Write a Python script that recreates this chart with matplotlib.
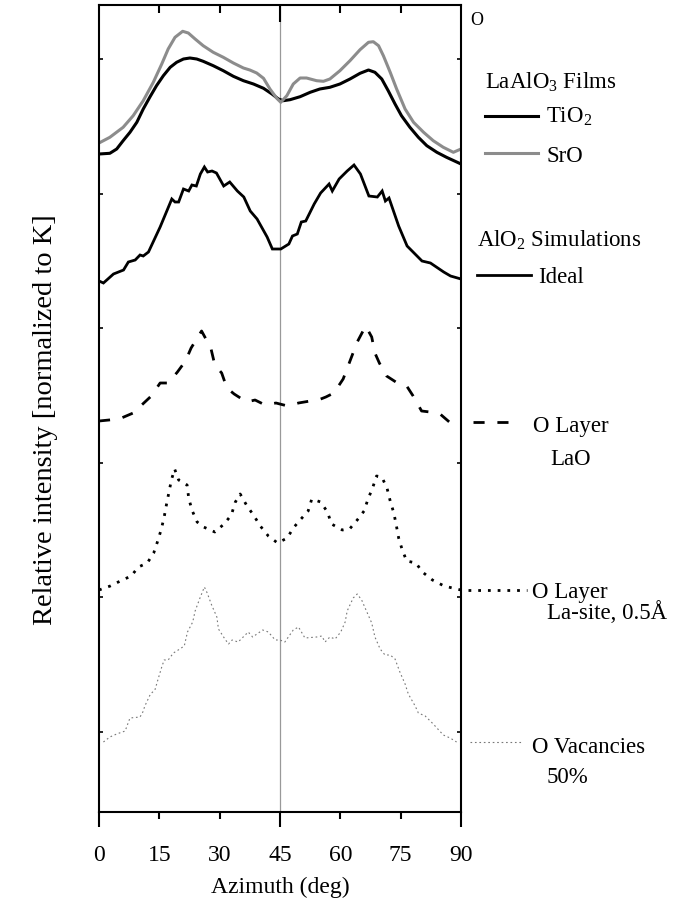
import numpy as np
import matplotlib
matplotlib.use("Agg")
import matplotlib.pyplot as plt
from matplotlib.lines import Line2D

plt.rcParams['font.family'] = ['Liberation Serif', 'DejaVu Serif']
plt.rcParams['mathtext.fontset'] = 'custom'
plt.rcParams['mathtext.rm'] = 'Liberation Serif'
plt.rcParams['mathtext.it'] = 'Liberation Serif:italic'

# Stacked azimuthal scans, intensities already offset for display
az_tio2 = [0, 2.7, 4.4, 6.0, 7.7, 9.4, 11.0, 12.7, 14.3, 16.0, 17.7, 19.3, 21.0, 22.6,
           24.3, 25.9, 28.4, 30.9, 33.4, 35.9, 38.4, 40.9, 43.0, 44.6, 45.8, 47.5, 50.0,
           52.5, 54.9, 57.4, 59.9, 62.4, 64.9, 67.0, 68.6, 70.3, 71.9, 73.6, 75.2, 77.3,
           79.4, 81.5, 84.0, 86.4, 90]
int_tio2 = [658, 658.7, 663, 671.3, 679.7, 689.7, 703, 715.3, 726.3, 736.3, 744.7, 749.7,
            753, 754, 753, 750.7, 746.3, 741.3, 735.7, 731.3, 728, 723.7, 718, 713, 711.3,
            712.3, 715.3, 719.7, 723, 724.7, 728, 733, 738.7, 742, 739.7, 733, 721.3, 708,
            696.3, 684.7, 674.7, 666.3, 659.7, 654.7, 648]

az_sro = [0, 2.7, 6.0, 8.5, 11.0, 13.5, 15.6, 17.2, 18.9, 20.8, 22.2, 23.9, 25.9, 28.4,
          30.9, 33.4, 35.9, 37.5, 39.2, 40.9, 42.5, 44.2, 45.2, 46.7, 48.3, 50.0, 51.6,
          54.1, 55.8, 57.4, 59.9, 62.4, 64.9, 67.0, 68.2, 69.5, 70.7, 72.4, 74.0, 76.1,
          78.2, 80.7, 83.1, 85.6, 88.1, 90]
int_sro = [669, 674.7, 684.7, 696.3, 711.3, 729.7, 748, 763, 774.7, 780.7, 779, 773,
           766.3, 759.7, 754.7, 749, 744, 742, 739, 733.7, 723, 713.7, 709.7, 716.3, 728,
           734, 734, 731.3, 730.7, 733, 741.3, 751.3, 762.3, 769.7, 770.3, 766.3, 756.3,
           739.7, 723, 703, 689.7, 679.7, 671.3, 664.7, 659.7, 663]

az_ideal = [0, 1.1, 3.6, 6.1, 7.3, 9, 10.2, 11, 12.3, 15.2, 18.1, 18.9, 19.8, 21, 22.3,
            23.1, 24.2, 25.2, 26.2, 27, 28.1, 29.2, 31, 32.5, 34.4, 36, 37.6, 39.3, 41.8,
            43.1, 45.2, 47.2, 48.1, 49.3, 50.3, 51.4, 53.5, 55.1, 57.2, 58, 59.7, 61.7,
            63.4, 65, 67.1, 69.2, 70.4, 71.2, 72.1, 74.5, 76.6, 80.3, 82.4, 85.7, 87.4, 90]
int_ideal = [531, 529, 538, 542, 550, 552, 557, 556, 560, 585, 613, 610, 610, 623, 621,
             627, 626, 638, 645, 640, 641, 639, 626, 630, 621, 615, 601, 593, 575,
             563, 563, 568, 576, 578, 590, 591, 608, 619, 628, 621, 633, 641,
             647, 638, 616, 615, 621, 611, 614, 586, 566, 551, 549, 540, 536, 533]

az_lao = [0, 5, 8.5, 13, 15.2, 17.2, 19.5, 21.5, 22.9, 25.5, 27.8, 28.8, 30.5, 31.8, 33.6,
          36.7, 38.8, 41.3, 44, 46.9, 49.6, 52.5, 54.5, 56.4, 58.4, 60.7, 64.2, 66.3,
          67.8, 68.6, 69.7, 71.5, 73.8, 76.5, 78.1, 80.2, 82.3, 84.8, 87.1, 88]
int_lao = [391, 393, 399, 416, 429, 429, 440, 451, 464, 481, 464, 447, 439, 424, 418,
           410, 412, 407, 409, 406, 409, 411, 412, 415, 419, 433, 470, 486,
           475, 459, 449, 436, 430, 426, 416, 401, 400, 398, 390, 388]

az_lasite = [0, 2.8, 5.3, 8, 9.8, 12, 13.6, 14.6, 15.5, 16.2, 16.8, 17.4, 18, 18.8, 19.8,
             21.9, 22.3, 23.1, 24.4, 26, 28.8, 31.1, 32.9, 33.9, 35.1, 36.8, 38.4, 40.1,
             42.1, 44.4, 46.8, 48.3, 50, 52, 52.9, 55.1, 56.8, 57.8, 60.5, 62.3, 64.2,
             65.9, 66.8, 68.1, 69, 70.3, 71.6, 72.4, 73.3, 73.9, 74.5, 75.4, 76.5, 78.8,
             80.4, 82.9, 85.8, 88.9, 90]
int_lasite = [222, 226, 231, 236, 245, 249, 259, 271, 283, 295, 308, 320, 332, 343, 332,
              327, 314, 302, 290, 285, 280, 288, 297, 310, 318, 306, 297, 286,
              276, 269, 274, 284, 292, 301, 313, 310, 300, 288, 282, 283, 292,
              301, 312, 325, 336, 335, 324, 311, 299, 287, 274, 262, 251, 249,
              240, 232, 226, 223, 222]

az_vac = [1.1, 2.7, 4.4, 6.5, 7.7, 10.2, 10.9, 11.4, 12.8, 13.9, 14.7, 15.6, 16.2, 17.2,
          18.5, 19.7, 21.2, 22, 23.3, 23.9, 25.1, 26.2, 26.9, 28, 29.3, 29.7, 31.3, 32.2,
          33.1, 34.6, 37.1, 38.2, 40.7, 42.1, 43.8, 45, 46.2, 48.3, 49.6, 51.2, 54.1,
          55.4, 56.2, 57.4, 58.7, 60.1, 61.2, 61.7, 63.2, 64.2, 65.3, 66.6, 67.8, 68.6,
          69.9, 71.1, 72.4, 73.6, 74.8, 76.1, 76.9, 78.6, 79.4, 81.1, 83.1, 85.6, 87.3, 88.9]
int_vac = [70, 75, 78, 81, 94, 95, 100, 106, 118, 122, 133, 145, 152, 152,
           159, 162, 166, 180, 190, 201, 214, 225, 219, 207, 195, 183, 173, 168,
           172, 170, 180, 175, 182, 180, 172, 172, 170, 182, 185, 174, 175,
           176, 170, 175, 173, 180, 190, 201, 214, 218, 212, 200, 189, 175,
           163, 157, 157, 153, 140, 128, 118, 106, 99, 96, 88, 77, 74, 70]

x_ticks = [0, 15, 30, 45, 60, 75, 90]
long_ticks = [0, 45, 90]

W, H = 676, 903
fig = plt.figure(figsize=(W / 100, H / 100), dpi=100)
ax = fig.add_axes([99 / W, 1 - 813 / H, 362 / W, 807 / H])


def px(x, y):
    # pixel position (from top-left) -> figure fraction
    return x / W, 1 - y / H


ax.axvline(45, color='#999999', lw=0.9, zorder=1)

ax.plot(az_tio2, int_tio2, color='black', lw=2.2, solid_joinstyle='round')
ax.plot(az_sro, int_sro, color='#8c8c8c', lw=2.2, solid_joinstyle='round')
ax.plot(az_ideal, int_ideal, color='black', lw=2.0, solid_joinstyle='miter')
ax.plot(az_lao, int_lao, color='black', lw=2.0, linestyle=(0, (4.0, 4.6)))
ax.plot(az_lasite, int_lasite, color='black', lw=2.0, linestyle=(0, (1, 2.5)))
ax.plot(az_vac, int_vac, color='#777777', lw=0.8, linestyle=(0, (1.5, 2.5)))

ax.set_xlim(0, 90)
ax.set_ylim(0, 807)
for s in ax.spines.values():
    s.set_linewidth(1.5)

ax.set_xticks(x_ticks)
ax.set_xticklabels([str(t) for t in x_ticks])
ax.tick_params(axis='x', length=0, labelsize=17, pad=23)

# x tick marks: outward below, inward along the top, longer at 0/45/90
tx = ax.get_xaxis_transform()
short = [t for t in x_ticks if t not in long_ticks]
ax.vlines(short, -7 / 807, 0, transform=tx, clip_on=False, color='black', lw=1.5)
ax.vlines(long_ticks, -15 / 807, 0, transform=tx, clip_on=False, color='black', lw=1.5)
ax.vlines(short, 1 - 8 / 807, 1, transform=tx, clip_on=False, color='black', lw=1.5)
ax.vlines([45], 1 - 17 / 807, 1, transform=tx, clip_on=False, color='black', lw=1.5)

ax.set_yticks(np.arange(753, 0, -134.5))
ax.tick_params(axis='y', which='major', direction='in', length=3, width=1.2,
               left=True, right=True, labelleft=False)

ax.set_xlabel('Azimuth (deg)', fontsize=17, labelpad=8)
fig.text(*px(46, 420), 'Relative intensity [normalized to K]', rotation=90,
         ha='center', va='center', fontsize=20.5)

fig.text(*px(470, 25), 'O', fontsize=13, ha='left', va='baseline')

# Key on the right of the plot
key_lines = [
    ((485, 538), 117, dict(color='black', lw=2.2)),
    ((485, 538), 154, dict(color='#8c8c8c', lw=2.2)),
    ((477, 531), 276, dict(color='black', lw=2.0)),
    ((473, 514), 423, dict(color='black', lw=2.0, linestyle=(0, (4.0, 4.6)))),
    ((468, 527), 591, dict(color='black', lw=2.0, linestyle=(0, (1, 2.5)))),
    ((470, 523), 743, dict(color='#777777', lw=0.8, linestyle=(0, (1.5, 2.5)))),
]
for (x0, x1), y, kw in key_lines:
    (fx0, fy), (fx1, _) = px(x0, y), px(x1, y)
    fig.add_artist(Line2D([fx0, fx1], [fy, fy], transform=fig.transFigure, **kw))

key_texts = [
    (485, 89, r'LaAlO$_{\mathrm{3}}$ Films'),
    (546, 123, r'TiO$_{\mathrm{2}}$'),
    (546, 162, 'SrO'),
    (477, 247, r'AlO$_{\mathrm{2}}$ Simulations'),
    (538, 283, 'Ideal'),
    (533, 432, 'O Layer'),
    (550, 465, 'LaO'),
    (532, 598, 'O Layer'),
    (547, 619, 'La-site, 0.5Å'),
    (532, 753, 'O Vacancies'),
    (547, 783, '50%'),
]
for x, y, s in key_texts:
    fig.text(*px(x, y), s, fontsize=16.5, ha='left', va='baseline')

fig.savefig('out.png', dpi=100)
